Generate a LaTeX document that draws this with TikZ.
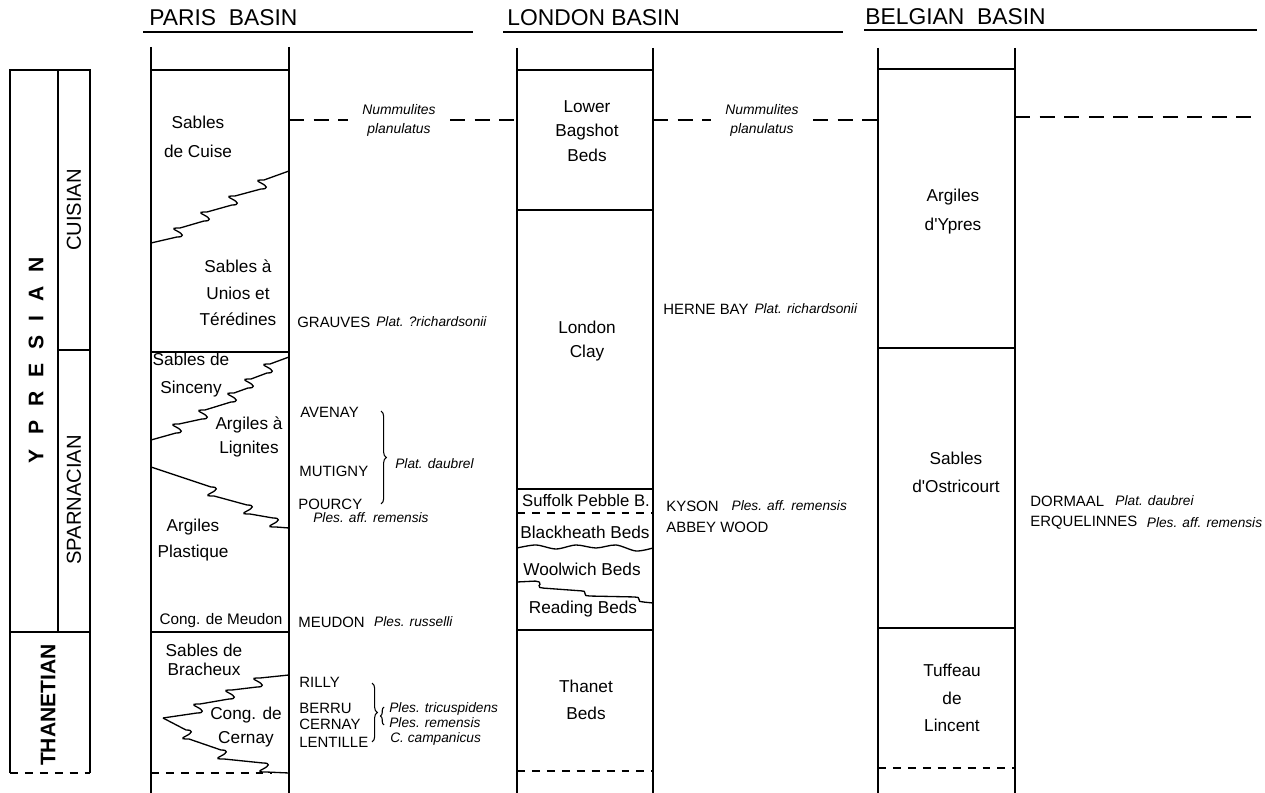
\documentclass[tikz,border=0pt]{standalone}
\usepackage{fontspec}
\setmainfont{Liberation Sans}
\usetikzlibrary{positioning, decorations.pathreplacing}
% small interfingering curls (rising / falling)
\newcommand{\kinkup}{.. controls +(8,0) and +(6,3) .. ++(0,-6) .. controls +(-6,-3) and +(-6,0) .. ++(3,-3)}
\newcommand{\kinkdn}{.. controls +(8,0) and +(6,-3) .. ++(0,6) .. controls +(-6,3) and +(-6,0) .. ++(3,3)}

\begin{document}
\begin{tikzpicture}[x=0.02cm, y=-0.02cm,
  rule/.style={line width=0.95pt},
  thinrule/.style={line width=0.75pt},
  base/.style={line width=0.7pt, dash pattern=on 4.5pt off 4pt},
  marker/.style={line width=1.7pt, dash pattern=on 8.5pt off 5.5pt},
  layer/.style={font=\fontsize{9.8}{14}\selectfont, align=center, inner sep=0pt},
  site/.style={font=\fontsize{8.5}{10}\selectfont, anchor=west, inner sep=0pt},
  fossil/.style={font=\fontsize{7.8}{10}\selectfont\itshape, anchor=west, inner sep=0pt},
  zone/.style={font=\fontsize{7.9}{10.8}\selectfont\itshape, align=center, inner xsep=8pt, inner ysep=0pt},
  basin/.style={font=\fontsize{13}{15}\selectfont, anchor=base west, inner sep=0pt},
  stage/.style={font=\fontsize{11.5}{13}\selectfont, rotate=90, inner sep=0pt},
  tie/.style={decorate, decoration={brace, amplitude=3pt}, line width=0.6pt}]
\useasboundingbox (0,0) rectangle (1265,793);

% Headings
\node[basin] (hParis) at (149,26) {PARIS\ \ BASIN};
\node[basin] (hLondon) at (507,26) {LONDON\ BASIN};
\node[basin] (hBelgian) at (865,25) {BELGIAN\ \ BASIN};
\draw[thinrule] (143,32) -- (473,32);
\draw[thinrule] (503,32) -- (843,32);
\draw[thinrule] (864,30) -- (1257,30);

% Stages
\draw[rule] (10,773) -- (10,70) -- (90,70) -- (90,773);
\draw[rule] (58,70) -- (58,632);
\draw[rule] (58,350) -- (90,350);
\draw[rule] (10,632) -- (90,632);
\draw[base] (10,773) -- (90,773);
\node[stage, font=\fontsize{12}{14}\selectfont\bfseries] (sYpresian) at (36,360)
  {Y\hspace{8pt}P\hspace{8pt}R\hspace{8pt}E\hspace{8pt}S\hspace{8pt}I\hspace{8pt}A\hspace{8pt}N};
\node[stage] (sCuisian) at (74,210) {CUISIAN};
\node[stage] (sSparnacian) at (74,500) {SPARNACIAN};
\node[stage, font=\fontsize{12}{14}\selectfont\bfseries] (sThanetian) at (48,705) {THANETIAN};

% Paris basin column
\draw[rule] (151,47) -- (151,793) (289,47) -- (289,793);
\draw[rule] (151,70) -- (289,70);
\draw[rule] (151,352) -- (289,352);
\draw[rule] (151,632) -- (289,632);
\draw[base] (151,773) -- (272,773);
\draw[thinrule] (151,243) -- (177,237) \kinkup -- (204,221) \kinkup
  -- (232,205) \kinkup -- (261,189) \kinkup -- (289,171);
\draw[thinrule] (151,440) -- (176,433) \kinkup -- (202,419) \kinkup
  -- (231,402) \kinkup -- (248,388) \kinkup -- (267,373) \kinkup -- (289,357);
\draw[thinrule] (151,467) -- (211,487) \kinkdn -- (247,505) \kinkdn
  -- (273,518) \kinkdn -- (289,528);
\draw[thinrule] (163,718) -- (197,713) \kinkup -- (229,699) \kinkup
  -- (257,687) \kinkup -- (289,675);
\draw[thinrule] (163,718) -- (186,730) \kinkdn -- (221,750) \kinkdn
  -- (263,763) \kinkdn -- (289,773);

\node[layer] (pCuise) at (198,137) {Sables\\[2.5pt]de Cuise};
\node[layer] (pUnios) at (238,293) {Sables à\\[1pt]Unios et\\[1pt]Térédines};
\node[layer] (pSinceny) at (191,375) {Sables de\\[1.5pt]Sinceny};
\node[layer] (pLignites) at (249,437) {Argiles à\\Lignites};
\node[layer] (pPlastique) at (193,540) {Argiles\\[1pt]Plastique};
\node[layer, font=\fontsize{8.7}{10}\selectfont] (pMeudon) at (221,621) {Cong. de Meudon};
\node[layer] (pBracheux) at (204,660) {Sables de\\[-3pt]Bracheux};
\node[layer] (pCernay) at (246,727) {Cong. de\\Cernay};

% Paris localities
\node[site] (grauves) at (297,322) {GRAUVES};
\node[fossil, right=3pt of grauves] (fGrauves) {Plat. ?richardsonii};
\node[site] (avenay) at (300,412) {AVENAY};
\node[site] (mutigny) at (299,471) {MUTIGNY};
\node[site] (pourcy) at (298,504) {POURCY};
\draw[tie] (381,411) -- (381,504);
\node[fossil] (fDaubP) at (395,464) {Plat. daubrel};
\node[fossil] (fPourcy) at (313,518) {Ples. aff. remensis};
\node[site] (meudon) at (298,622) {MEUDON};
\node[fossil, right=5pt of meudon] (fMeudon) {Ples. russelli};
\node[site] (rilly) at (299,682) {RILLY};
\node[site] (berru) at (299,708) {BERRU};
\node[site] (cernay) at (299,724) {CERNAY};
\node[site] (lentille) at (299,742) {LENTILLE};
\draw[tie] (372,683) -- (372,742);
\draw[tie, decoration={brace, amplitude=2pt}] (384,725) -- (384,707);
\node[fossil] (fTric) at (389,709) {Ples. tricuspidens};
\node[fossil] (fRem) at (389,723) {Ples. remensis};
\node[fossil] (fCamp) at (390,739) {C. campanicus};

% Nummulites planulatus level
\node[zone] (nummP) at (399,120) {Nummulites\\planulatus};
\node[zone] (nummL) at (762,120) {Nummulites\\planulatus};
\draw[marker] (289,120) -- (nummP.west);
\draw[marker] (nummP.east) -- (517,120);
\draw[marker] (653,120) -- (nummL.west);
\draw[marker] (nummL.east) -- (878,120);
\draw[marker] (1015,117) -- (1257,117);

% London basin column
\draw[rule] (517,48) -- (517,793) (653,48) -- (653,793);
\draw[rule] (517,70) -- (653,70);
\draw[rule] (517,210) -- (653,210);
\draw[thinrule] (517,489) -- (653,489);
\draw[base] (517,513) -- (653,513);
\draw[thinrule] plot[smooth] coordinates {(517,548) (536,545) (556,549) (576,545) (596,548) (616,545) (636,551) (653,548)};
\draw[thinrule, rounded corners=1pt] (517,582) -- (537,581) -- ++(4,2) -- ++(-3,4) -- ++(4,1)
  -- (583,591) -- ++(3,1) -- ++(-2,3) -- ++(4,1)
  -- (636,597) -- ++(4,1) -- ++(-2,3) -- ++(5,1) -- (653,603);
\draw[rule] (517,630) -- (653,630);
\draw[base] (517,771) -- (653,771);

\node[layer] (lBagshot) at (587,131) {Lower\\Bagshot\\Beds};
\node[layer] (lClay) at (587,341) {London\\[-0.5pt]Clay};
\node[layer, font=\fontsize{9.5}{11}\selectfont] (lSuffolk) at (586,501) {Suffolk Pebble B.};
\node[layer] (lBlackheath) at (585,532) {Blackheath Beds};
\node[layer] (lWoolwich) at (582,569) {Woolwich Beds};
\node[layer] (lReading) at (583,609) {Reading Beds};
\node[layer] (lThanet) at (586,700) {Thanet\\[1.5pt]Beds};

% London localities
\node[site] (herne) at (663,309) {HERNE BAY};
\node[fossil, right=3pt of herne] (fHerne) {Plat. richardsonii};
\node[site] (kyson) at (666,506) {KYSON};
\node[fossil, right=7pt of kyson] (fKyson) {Ples. aff. remensis};
\node[site] (abbey) at (666,527) {ABBEY WOOD};

% Belgian basin column
\draw[rule] (878,48) -- (878,793) (1015,48) -- (1015,793);
\draw[rule] (878,69) -- (1015,69);
\draw[rule] (878,348) -- (1015,348);
\draw[rule] (878,628) -- (1015,628);
\draw[base] (878,768) -- (1015,768);

\node[layer] (bYpres) at (953,212) {Argiles\\[2.5pt]d\textquotesingle Ypres};
\node[layer] (bOstricourt) at (956,472) {Sables\\[2pt]d\textquotesingle Ostricourt};
\node[layer] (bLincent) at (952,698) {Tuffeau\\[1.5pt]de\\[1.5pt]Lincent};

% Belgian localities
\node[site] (dormaal) at (1030,501) {DORMAAL};
\node[fossil, right=6pt of dormaal] (fDormaal) {Plat. daubrei};
\node[site] (erquel) at (1030,523) {ERQUELINNES};
\node[fossil, right=5pt of erquel] (fErquel) {Ples. aff. remensis};
\end{tikzpicture}
\end{document}
